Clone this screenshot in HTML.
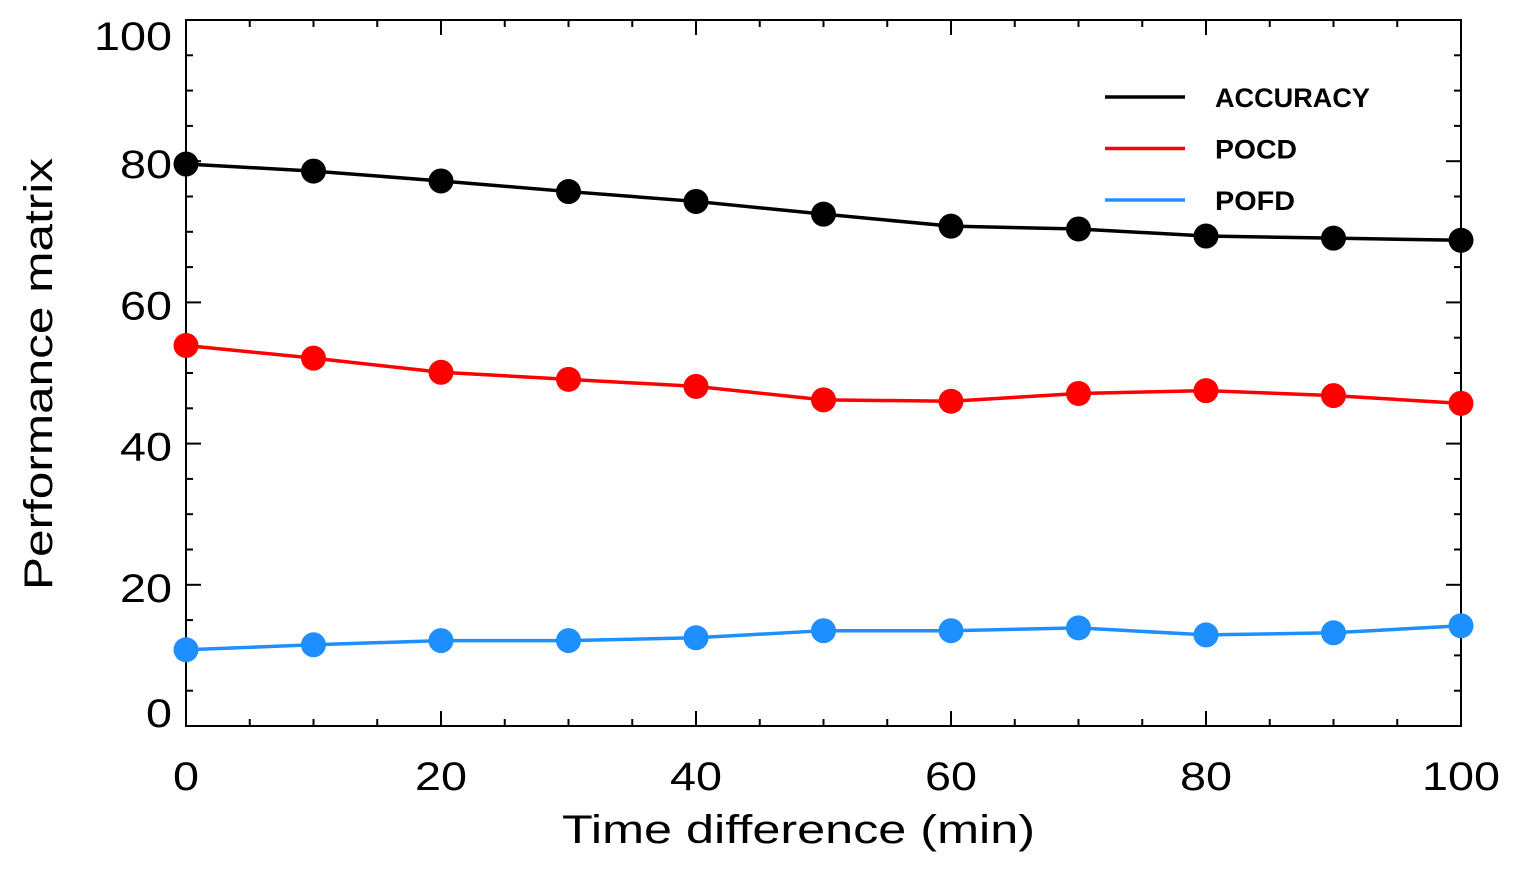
<!DOCTYPE html>
<html><head><meta charset="utf-8"><style>
body{margin:0;background:#fff}
svg{display:block;font-family:"Liberation Sans",sans-serif}
</style></head><body>
<svg id="chart" width="1518" height="873"></svg>
<script>
const xValues=[0,10,20,30,40,50,60,70,80,90,100];
const accuracy=[79.6,78.6,77.2,75.7,74.3,72.5,70.8,70.4,69.4,69.1,68.8];
const pocd=[53.9,52.1,50.1,49.1,48.1,46.2,46.0,47.1,47.5,46.8,45.7];
const pofd=[10.8,11.5,12.1,12.1,12.5,13.5,13.5,13.9,12.9,13.2,14.2];
const xTicks=[0,20,40,60,80,100];
const yTicks=[0,20,40,60,80,100];
const seriesNames=["ACCURACY","POCD","POFD"];
const seriesColors=["#000000","#ff0000","#1e8fff"];

const NS="http://www.w3.org/2000/svg";
const svg=document.getElementById('chart');
const L=186,R=1461,T=20,B=726;
const sx=v=>L+(v-0)/100*(R-L);
const sy=v=>B-(v-0)/100*(B-T);
function mk(tag,attrs,parent){const e=document.createElementNS(NS,tag);for(const k in attrs)e.setAttribute(k,attrs[k]);(parent||svg).appendChild(e);return e;}

const frame=mk('rect',{x:L,y:T,width:R-L,height:B-T,fill:'none',stroke:'#000','stroke-width':2});



const axes=mk('g',{stroke:'#000','stroke-width':2});


for(let v=0;v<=100;v+=5){
  const major=v%20===0, len=major?15:7;
  const x=sx(v);
  mk('line',{x1:x,y1:B,x2:x,y2:B-len},axes);
  mk('line',{x1:x,y1:T,x2:x,y2:T+len},axes);
  const y=sy(v);
  mk('line',{x1:L,y1:y,x2:L+len,y2:y},axes);
  mk('line',{x1:R,y1:y,x2:R-len,y2:y},axes);
}
xTicks.forEach(v=>{
  const s=String(v);
  const w=s.length*26;
  const t=mk('text',{x:sx(v)-w/2,y:790,'font-size':40,textLength:w,lengthAdjust:'spacingAndGlyphs'});
  t.textContent=s;
  
  
});
yTicks.forEach(v=>{
  const s=String(v);
  const w=s.length*26;
  const yb=v===100?50:(v===0?727:sy(v)+17);
  const t=mk('text',{x:172-w,y:yb,'font-size':40,textLength:w,lengthAdjust:'spacingAndGlyphs'});
  t.textContent=s;
  
  
});
const xt=mk('text',{x:562,y:843,'font-size':40,textLength:473,lengthAdjust:'spacingAndGlyphs'});
xt.textContent='Time difference (min)';


const yt=mk('text',{x:0,y:0,'font-size':40,textLength:432,lengthAdjust:'spacingAndGlyphs',transform:'translate(52,590) rotate(-90)'});
yt.textContent='Performance matrix';



const legendWidths=[155,82,80];
[accuracy,pocd,pofd].forEach((vals,i)=>{
  const g=mk('g',{});
  
  
  const pts=vals.map((v,j)=>sx(xValues[j])+','+sy(v)).join(' ');
  const pl=mk('polyline',{points:pts,fill:'none',stroke:seriesColors[i],'stroke-width':3.5},g);
  
  
  vals.forEach((v,j)=>{
    const c=mk('circle',{cx:sx(xValues[j]),cy:sy(v),r:12.5,fill:seriesColors[i]},g);
    
    
  });
  const ly=97+i*51.5;
  const ll=mk('line',{x1:1105,y1:ly,x2:1185,y2:ly,stroke:seriesColors[i],'stroke-width':3.5});
  
  
  const lt=mk('text',{x:1215,y:ly+10,'font-size':27,'font-weight':'bold',textLength:legendWidths[i],lengthAdjust:'spacingAndGlyphs'});
  lt.textContent=seriesNames[i];
  
  
});
</script>
</body></html>
